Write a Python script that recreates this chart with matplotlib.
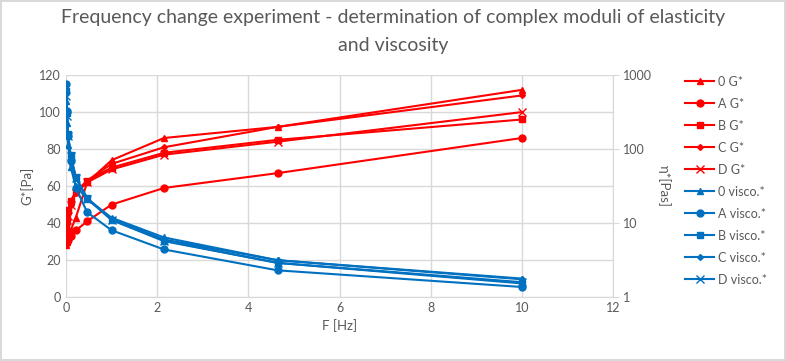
import matplotlib
matplotlib.use("Agg")
import matplotlib.pyplot as plt
from matplotlib.lines import Line2D

plt.rcParams['font.family'] = ['Lato', 'DejaVu Sans']

# frequency sweep [Hz]
freq = [0.01, 0.0215, 0.0464, 0.1, 0.215, 0.464, 1, 2.15, 4.64, 10]

# complex modulus G* [Pa]
g_0 = [28, 30, 33, 36, 43, 62, 74, 86, 92, 112]
g_a = [29, 30, 31, 33, 36, 41, 50, 59, 67, 86]
g_b = [38, 42, 47, 52, 57, 63, 70, 78, 85, 96]
g_c = [35, 40, 45, 50, 56, 63, 72, 81, 92, 109]
g_d = [33, 38, 44, 50, 56, 62, 69, 77, 84, 100]

# complex viscosity eta* [Pas]
v_0 = [446, 222, 113, 57, 32, 21, 11.8, 6.4, 3.15, 1.78]
v_a = [750, 330, 150, 70, 30, 14, 8.0, 4.4, 2.3, 1.37]
v_b = [605, 310, 161, 83, 42, 21.6, 11.1, 5.8, 2.9, 1.53]
v_c = [557, 296, 154, 80, 41, 21.6, 11.5, 6.0, 3.15, 1.74]
v_d = [525, 281, 151, 80, 41, 21.3, 11.0, 5.7, 2.9, 1.59]

names = ["0", "A", "B", "C", "D"]
markers = ["^", "o", "s", "D", "x"]
msizes = [5, 5, 5, 3, 6]

red = "#FF0000"
blue = "#0070C0"
grey = "#595959"

fig = plt.figure(figsize=(7.86, 3.61), dpi=100)
fig.patch.set_edgecolor("#D9D9D9")
fig.patch.set_linewidth(1.5)
ax = fig.add_axes([0.084, 0.177, 0.696, 0.615])
ax2 = ax.twinx()

handles = []
for g, n, m, s in zip([g_0, g_a, g_b, g_c, g_d], names, markers, msizes):
    ax.plot(freq, g, color=red, marker=m, markersize=s, lw=1.5, zorder=3)
    handles.append(Line2D([], [], color=red, marker=m, markersize=s, lw=1.5, label=n + " G*"))
for v, n, m, s in zip([v_0, v_a, v_b, v_c, v_d], names, markers, msizes):
    ax2.plot(freq, v, color=blue, marker=m, markersize=s, lw=1.5, zorder=3)
    handles.append(Line2D([], [], color=blue, marker=m, markersize=s, lw=1.5, label=n + " visco.*"))

ax.set_xlim(0, 12)
ax.set_ylim(0, 120)
ax.set_xticks(range(0, 13, 2))
ax.set_yticks(range(0, 121, 20))
ax2.set_yscale("log")
ax2.set_ylim(1, 1000)
ax2.set_yticks([1, 10, 100, 1000])
ax2.set_yticklabels(["1", "10", "100", "1000"])
ax2.minorticks_off()

ax.grid(True, color="#D9D9D9", lw=1)
ax.set_axisbelow(True)
for a in (ax, ax2):
    for sp in a.spines.values():
        sp.set_visible(False)
    a.tick_params(colors=grey, labelsize=9, length=0)
ax2.spines["right"].set_visible(True)
ax2.spines["right"].set_color("#D9D9D9")
ax2.tick_params(axis="y", length=4, color="#D9D9D9", pad=3)
ax.spines["bottom"].set_visible(True)
ax.spines["bottom"].set_color("#D9D9D9")

ax.set_xlabel("F [Hz]", color=grey, fontsize=9.5)
ax.set_ylabel("G*[Pa]", color=grey, fontsize=9.5)
ax2.set_ylabel("η*[Pas]", color=grey, fontsize=9.5, rotation=-90, labelpad=14)

fig.text(0.5, 0.913, "Frequency change experiment - determination of complex moduli of elasticity\nand viscosity",
         ha="center", va="center", fontsize=14, color=grey, linespacing=1.75)

fig.legend(handles=handles, loc="center left", bbox_to_anchor=(0.872, 0.5), frameon=False,
           fontsize=9, labelcolor=grey, handlelength=2.3, labelspacing=0.8, handletextpad=0.3,
           borderaxespad=0, borderpad=0)

fig.savefig("out.png", dpi=100)
